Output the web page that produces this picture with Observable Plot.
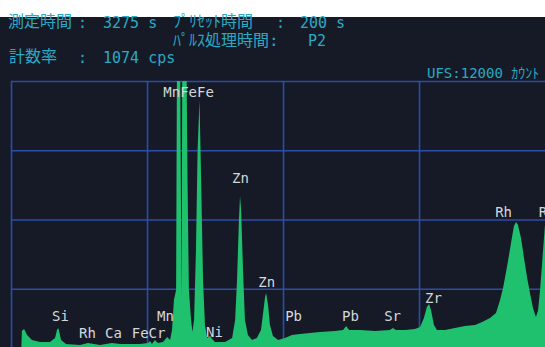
<!DOCTYPE html>
<html>
<head>
<meta charset="utf-8">
<script src="https://cdn.jsdelivr.net/npm/d3@7"></script>
<script src="https://cdn.jsdelivr.net/npm/@observablehq/plot@0.6"></script>
<style>
  html, body { margin: 0; padding: 0; }
  body { width: 545px; height: 347px; overflow: hidden; position: relative; background: #ffffff; }
  #screen { position: absolute; left: 0; top: 17px; width: 545px; height: 330px; background: #161a27; }
  #chart { position: absolute; left: 0; top: 0; }
  .hd { position: absolute; color: #2aa9c6; font-family: "DejaVu Sans Mono", "Noto Sans CJK JP", monospace; white-space: pre; line-height: 1; }
  .cjk { font-size: 16px; }
  .lat { font-size: 15px; }
</style>
</head>
<body>
<div id="screen"></div>
<div id="chart"></div>
<div id="header"></div>
<script>
// Spectrum energy (keV) and counts
const energy = [0.37,0.40,0.48,0.59,0.77,1.07,1.43,1.62,1.69,1.73,1.76,1.84,2.02,2.54,2.83,3.27,3.71,4.01,4.74,5.04,5.11,5.18,5.29,5.40,5.59,5.74,5.85,5.92,5.99,6.07,6.10,6.16,6.22,6.27,6.30,6.38,6.45,6.49,6.54,6.62,6.67,6.73,6.80,6.86,6.93,6.99,7.06,7.13,7.21,7.32,7.39,7.50,7.87,8.13,8.24,8.31,8.38,8.42,8.46,8.53,8.60,8.71,8.86,9.04,9.19,9.26,9.34,9.38,9.45,9.52,9.63,9.82,10.07,10.33,10.63,10.99,11.36,11.91,12.21,12.32,12.43,12.83,13.38,13.93,14.04,14.15,14.49,14.85,15.04,15.18,15.29,15.37,15.44,15.55,15.66,15.96,16.32,16.69,17.06,17.32,17.61,17.83,17.98,18.09,18.20,18.31,18.42,18.49,18.57,18.64,18.75,18.86,18.97,19.08,19.19,19.30,19.38,19.45,19.52,19.63,19.82,20.04];
const counts = [0,1170,1256,996,780,693,693,866,1213,1300,1213,780,606,563,650,563,650,606,606,650,736,606,780,650,693,910,780,1213,2513,2946,12500,30000,12500,2513,14000,40000,13000,7711,2946,1646,1126,1646,4679,9010,11177,7711,3379,1430,866,953,823,693,693,866,1646,3379,5978,7018,6411,3812,1646,996,780,866,1213,1863,2643,2816,2296,1430,953,780,866,996,1040,1083,1126,1170,1213,1386,1213,1213,1170,1213,1300,1213,1213,1256,1343,1733,2209,2339,2079,1430,1213,1213,1300,1386,1430,1560,1733,1949,2513,3032,3726,4462,5242,5718,5892,5762,5198,4332,3509,2816,2166,1776,2079,2946,4029,5762,7278,7928];

// Peak labels
const labelText = ["MnFeFe","Zn","Zn","Si","Rh","Ca","FeCr","Mn","Ni","Pb","Pb","Sr","Zr","Rh","Rh"];
const labelEnergy = [6.51,8.42,9.38,1.80,2.79,3.75,5.04,5.66,7.46,10.37,12.46,14.01,15.51,18.09,19.69];
const labelCounts = [11523,7798,3292,1819,1083,1083,1083,1819,1126,1819,1819,1819,2599,6325,6325];

// Grid ticks
const xTicks = [0,5,10,15];
const yTicks = [3000,6000,9000,12000];

// Header texts
const headerItems = [
  {t:"測定時間", x:8, y:14, c:"cjk"},
  {t:":", x:78, y:16, c:"lat"},
  {t:"3275 s", x:103, y:16, c:"lat"},
  {t:"ﾌﾟﾘｾｯﾄ時間", x:173, y:14, c:"cjk"},
  {t:":", x:276, y:16, c:"lat"},
  {t:"200 s", x:300, y:16, c:"lat"},
  {t:"ﾊﾟﾙｽ処理時間:", x:173, y:33, c:"cjk"},
  {t:"P2", x:308, y:34, c:"lat"},
  {t:"計数率", x:9, y:49, c:"cjk"},
  {t:":", x:78, y:51, c:"lat"},
  {t:"1074 cps", x:103, y:51, c:"lat"}
];

const spectrum = energy.map((e, i) => ({e, c: counts[i]}));
const labels = labelText.map((t, i) => ({t, e: labelEnergy[i], c: labelCounts[i]}));

const green = "#20c16e";
const gridBlue = "#2d4ca8";

const chart = Plot.plot({
  width: 545,
  height: 347,
  marginTop: 81,
  marginBottom: 0,
  marginLeft: 11,
  marginRight: 0,
  style: {background: "transparent", overflow: "visible"},
  x: {domain: [0, 19.632], axis: null},
  y: {domain: [476, 12000], axis: null},
  marks: [
    Plot.gridX(xTicks, {stroke: gridBlue, strokeOpacity: 1, strokeWidth: 1.6}),
    Plot.gridY(yTicks, {stroke: gridBlue, strokeOpacity: 1, strokeWidth: 1.6}),
    Plot.areaY(spectrum, {x: "e", y: "c", fill: green, curve: "linear", clip: true}),
    Plot.text(labels, {x: "e", y: "c", text: "t", fill: "#d3d8dc", fontSize: 14, fontFamily: "DejaVu Sans Mono", textAnchor: "middle", lineAnchor: "middle"})
  ]
});
document.getElementById("chart").appendChild(chart);

const hdr = document.getElementById("header");
for (const h of headerItems) {
  const d = document.createElement("div");
  d.className = "hd " + h.c;
  d.style.left = h.x + "px";
  d.style.top = h.y + "px";
  d.textContent = h.t;
  hdr.appendChild(d);
}
const ufs = document.createElement("div");
ufs.className = "hd";
ufs.style.left = "427px";
ufs.style.top = "66px";
ufs.style.fontSize = "14px";
ufs.textContent = "UFS:12000 ｶｳﾝﾄ";
hdr.appendChild(ufs);
</script>
</body>
</html>
